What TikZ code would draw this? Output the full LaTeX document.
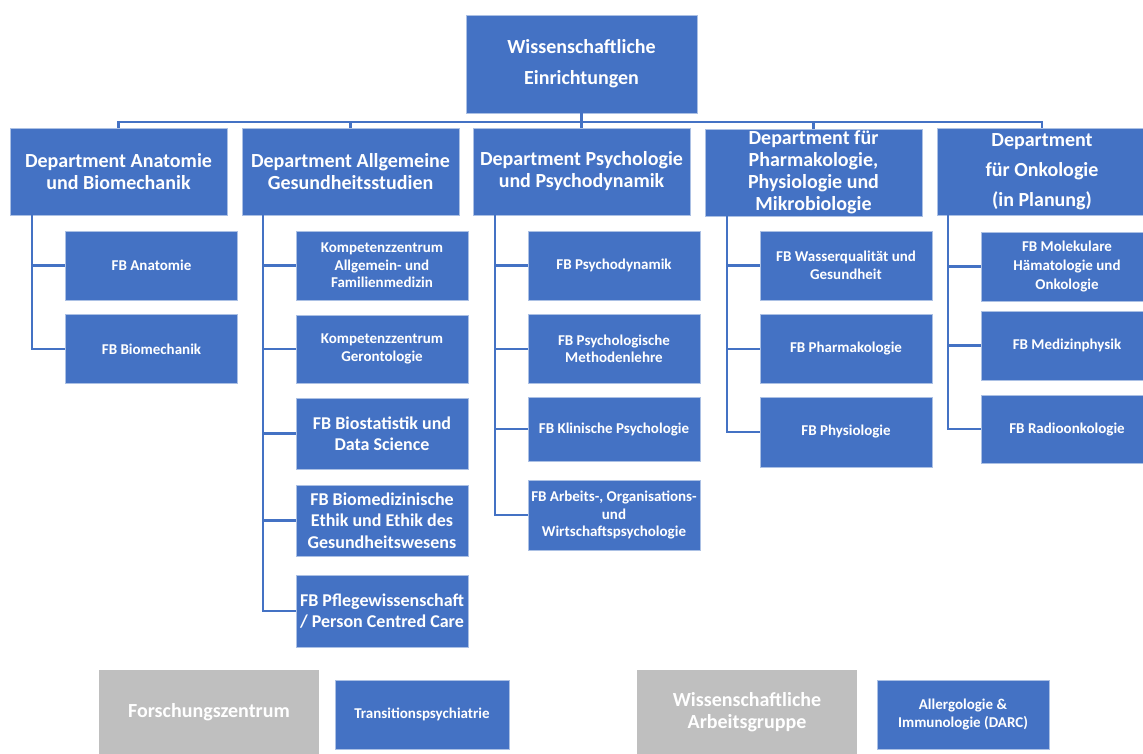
\documentclass[tikz,border=0pt]{standalone}
\usepackage{fontspec}
\setmainfont{Carlito}
\definecolor{ob}{HTML}{4472C4}
\definecolor{og}{HTML}{BFBFBF}
\begin{document}
\begin{tikzpicture}[x=1pt,y=-1pt,
  box/.style={rectangle, fill=ob, draw=white!55!ob, line width=0.6pt, text=white, align=center, inner sep=0.5pt},
  topbox/.style={box, minimum width=231pt, minimum height=98pt, font=\bfseries\fontsize{20}{31}\selectfont},
  dept/.style={box, minimum width=217pt, minimum height=87pt, font=\bfseries\fontsize{20}{22}\selectfont},
  sub/.style={box, minimum width=172pt, minimum height=69pt, font=\bfseries\fontsize{15}{17.5}\selectfont},
  subbig/.style={sub, font=\bfseries\fontsize{18}{21.5}\selectfont},
  gbox/.style={box, fill=og, draw=none, minimum width=220pt, minimum height=84pt, font=\bfseries\fontsize{20}{22}\selectfont},
  link/.style={draw=ob, line width=2.2pt}]
\useasboundingbox (0,0) rectangle (1143,753);

% top
\node[topbox] (top) at (581.5,64) {Wissenschaftliche\\Einrichtungen};

% departments
\node[dept] (d1) at (118.5,171.5) {Department Anatomie\\und Biomechanik};
\node[dept] (d2) at (350.5,171.5) {Department Allgemeine\\Gesundheitsstudien};
\node[dept] (d3) at (581.5,171.5) {Department Psychologie\\und Psychodynamik};
\node[dept] (d4) at (813.5,172.5) {Department für\\Pharmakologie,\\Physiologie und\\Mikrobiologie};
\node[dept, minimum width=210pt] (d5) at (1042,171.5) {Department\\[8pt]für Onkologie\\[8pt](in Planung)};

% column anchors
\coordinate (k1) at (32,0);
\coordinate (k2) at (263,0);
\coordinate (k3) at (495,0);
\coordinate (k4) at (727,0);
\coordinate (k5) at (948,0);
\coordinate (bus) at (581.5,122);

% column 1
\node[sub] (a1) at (151.5,265.5) {FB Anatomie};
\node[sub] (a2) at (151.5,349) {FB Biomechanik};

% column 2
\node[sub] (b1) at (382,265.5) {Kompetenzzentrum\\Allgemein- und\\Familienmedizin};
\node[sub, minimum height=68pt] (b2) at (382,349) {Kompetenzzentrum\\Gerontologie};
\node[subbig, minimum height=71pt] (b3) at (382,433.5) {FB Biostatistik und\\Data Science};
\node[subbig, minimum height=71pt] (b4) at (382,520.5) {FB Biomedizinische\\Ethik und Ethik des\\Gesundheitswesens};
\node[subbig, minimum height=72pt] (b5) at (382,611) {FB Pflegewissenschaft\\/ Person Centred Care};

% column 3
\node[sub] (p1) at (614,265.5) {FB Psychodynamik};
\node[sub] (p2) at (614,349) {FB Psychologische\\Methodenlehre};
\node[sub, minimum height=64pt] (p3) at (614,429) {FB Klinische Psychologie};
\node[sub, minimum height=70pt] (p4) at (614,515) {FB Arbeits-, Organisations-\\und\\Wirtschaftspsychologie};

% column 4
\node[sub] (w1) at (846,265.5) {FB Wasserqualität und\\Gesundheit};
\node[sub] (w2) at (846,349) {FB Pharmakologie};
\node[sub, minimum height=70pt] (w3) at (846,432) {FB Physiologie};

% column 5
\node[sub, font=\bfseries\fontsize{15}{19}\selectfont] (o1) at (1067,266.5) {FB Molekulare\\Hämatologie und\\Onkologie};
\node[sub] (o2) at (1067,345.5) {FB Medizinphysik};
\node[sub, minimum height=68pt] (o3) at (1067,429) {FB Radioonkologie};

% bottom
\node[gbox] (g1) at (209,712) {Forschungszentrum};
\node[sub, minimum width=174pt] (h1) at (422,714.5) {Transitionspsychiatrie};
\node[gbox] (g2) at (747,712) {Wissenschaftliche\\Arbeitsgruppe};
\node[sub] (h2) at (963,714.5) {Allergologie \&\\Immunologie (DARC)};

% bus connectors
\draw[link] (top.south) -- (top.south |- bus);
\draw[link] (d1.north) -- (d1.north |- bus) -- (d5.north |- bus) -- (d5.north);
\draw[link] (d2.north) -- (d2.north |- bus);
\draw[link] (d3.north) -- (d3.north |- bus);
\draw[link] (d4.north) -- (d4.north |- bus);

% column connectors
\draw[link] (d1.south -| k1) |- (a1.west);
\draw[link] (d1.south -| k1) |- (a2.west);
\draw[link] (d2.south -| k2) |- (b1.west);
\draw[link] (d2.south -| k2) |- (b2.west);
\draw[link] (d2.south -| k2) |- (b3.west);
\draw[link] (d2.south -| k2) |- (b4.west);
\draw[link] (d2.south -| k2) |- (b5.west);
\draw[link] (d3.south -| k3) |- (p1.west);
\draw[link] (d3.south -| k3) |- (p2.west);
\draw[link] (d3.south -| k3) |- (p3.west);
\draw[link] (d3.south -| k3) |- (p4.west);
\draw[link] (d4.south -| k4) |- (w1.west);
\draw[link] (d4.south -| k4) |- (w2.west);
\draw[link] (d4.south -| k4) |- (w3.west);
\draw[link] (d5.south -| k5) |- (o1.west);
\draw[link] (d5.south -| k5) |- (o2.west);
\draw[link] (d5.south -| k5) |- (o3.west);
\end{tikzpicture}
\end{document}
